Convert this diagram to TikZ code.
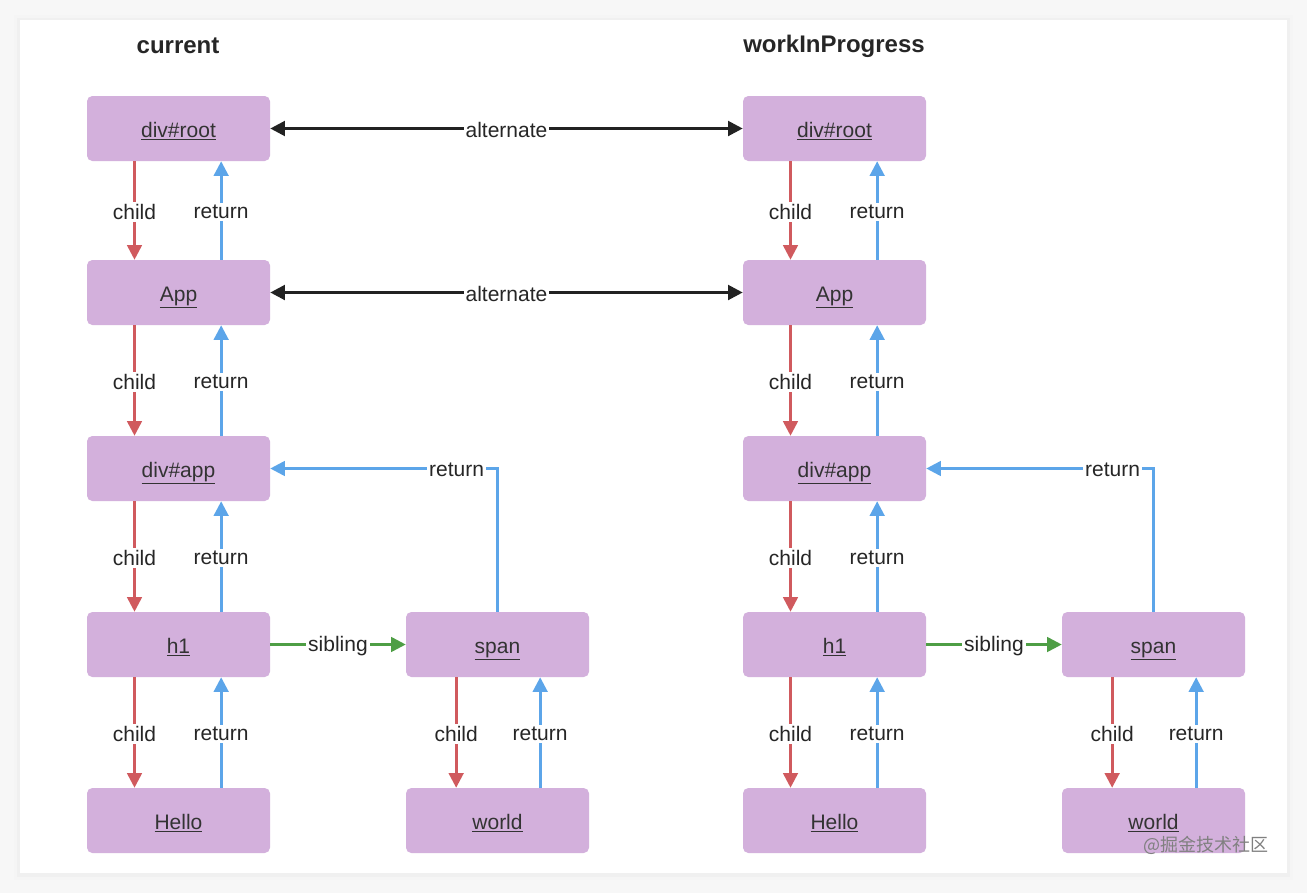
\documentclass[tikz,border=0pt]{standalone}
\usepackage{fontspec}
\setmainfont{Liberation Sans}
\newfontfamily\cjk{Noto Sans CJK SC}
\usetikzlibrary{arrows.meta}

\definecolor{boxpurple}{HTML}{D3B0DC}
\definecolor{childred}{HTML}{D05A5E}
\definecolor{retblue}{HTML}{5CA5E9}
\definecolor{sibgreen}{HTML}{4E9E45}
\definecolor{altblack}{HTML}{222222}
\definecolor{txtdark}{HTML}{333333}

\begin{document}
\begin{tikzpicture}[x=0.75pt,y=-0.75pt,
    fiber/.style={rectangle, rounded corners=4pt, fill=boxpurple, inner sep=0pt,
        minimum width=137.25pt, minimum height=48.75pt, text=txtdark,
        text height=14pt, text depth=1pt,
        font=\fontsize{15.75}{19}\selectfont},
    title/.style={font=\fontsize{18}{22}\selectfont\bfseries, text=black!85},
    lab/.style={fill=white, inner sep=1.5pt, text=black!85, yshift=-1pt,
        font=\fontsize{15.75}{19}\selectfont},
    tip/.style={-{Triangle[length=11pt,width=11pt]}},
    childline/.style={tip, draw=childred, line width=2pt},
    retline/.style={tip, draw=retblue, line width=2pt},
    sibline/.style={tip, draw=sibgreen, line width=2pt},
    altline/.style={{Triangle[length=11pt,width=11pt]}-{Triangle[length=11pt,width=11pt]},
        draw=altblack, line width=2.2pt}]

    % page and card
    \useasboundingbox (0,0) rectangle (1307,893);
    \fill[black!3] (0,0) rectangle (1307,893);
    \fill[black!4] (14,15) rectangle (1293,880);
    \fill[black!6] (17,18) rectangle (1290,877);
    \fill[white] (20,20) rectangle (1287,873);

    \foreach \s/\dx in {l/0, r/656} {
        % one fiber tree
        \node[fiber] (\s-root) at (178.5+\dx,128.5) {\underline{div\#root}};
        \node[fiber] (\s-app) at (178.5+\dx,292.5) {\underline{App}};
        \node[fiber] (\s-divapp) at (178.5+\dx,468.5) {\underline{div\#app}};
        \node[fiber] (\s-h1) at (178.5+\dx,644.5) {\underline{h1}};
        \node[fiber] (\s-hello) at (178.5+\dx,820.5) {\underline{Hello}};
        \node[fiber] (\s-span) at (497.5+\dx,644.5) {\underline{span}};
        \node[fiber] (\s-world) at (497.5+\dx,820.5) {\underline{world}};

        \draw[childline] ([xshift=-33pt]\s-root.south) -- node[lab] {child} ([xshift=-33pt]\s-app.north);
        \draw[retline] ([xshift=32pt]\s-app.north) -- node[lab] {return} ([xshift=32pt]\s-root.south);

        \draw[childline] ([xshift=-33pt]\s-app.south) -- node[lab] {child} ([xshift=-33pt]\s-divapp.north);
        \draw[retline] ([xshift=32pt]\s-divapp.north) -- node[lab] {return} ([xshift=32pt]\s-app.south);

        \draw[childline] ([xshift=-33pt]\s-divapp.south) -- node[lab] {child} ([xshift=-33pt]\s-h1.north);
        \draw[retline] ([xshift=32pt]\s-h1.north) -- node[lab] {return} ([xshift=32pt]\s-divapp.south);

        \draw[childline] ([xshift=-33pt]\s-h1.south) -- node[lab] {child} ([xshift=-33pt]\s-hello.north);
        \draw[retline] ([xshift=32pt]\s-hello.north) -- node[lab] {return} ([xshift=32pt]\s-h1.south);

        \draw[childline] ([xshift=-31pt]\s-span.south) -- node[lab] {child} ([xshift=-31pt]\s-world.north);
        \draw[retline] ([xshift=32pt]\s-world.north) -- node[lab] {return} ([xshift=32pt]\s-span.south);

        \draw[sibline] (\s-h1.east) -- node[lab] {sibling} (\s-span.west);
        \draw[retline] (\s-span.north) |- node[lab, pos=0.59] {return} (\s-divapp.east);
    }

    \node[title] (curtitle) at (178,46) {current};
    \node[title] (wiptitle) at (834,46) {workInProgress};

    \draw[altline] (l-root.east) -- node[lab] {alternate} (r-root.west);
    \draw[altline] (l-app.east) -- node[lab] {alternate} (r-app.west);

    \node[text=black!50, font=\cjk\fontsize{13.5}{16}\selectfont] (mark) at (1206,845) {@掘金技术社区};
\end{tikzpicture}
\end{document}
